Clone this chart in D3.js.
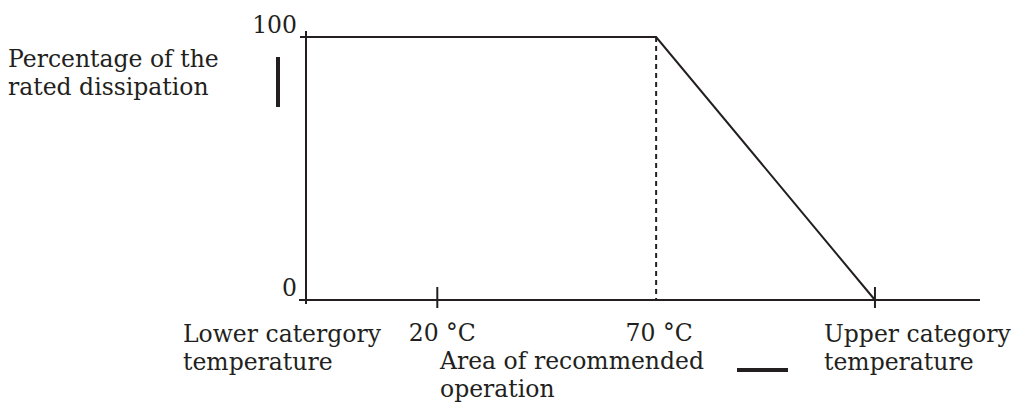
<!DOCTYPE html>
<html>
<head>
<meta charset="utf-8">
<script src="https://cdn.jsdelivr.net/npm/d3@7"></script>
<style>
  body { margin: 0; background: #fff; }
  svg text { font-family: "DejaVu Serif", serif; font-size: 23.5px; fill: #231f20; }
</style>
</head>
<body>
<svg id="chart" width="1012" height="405"></svg>
<script>
// derating curve: temperature (°C) vs percentage of rated dissipation
var temps = [-10, 70, 120];
var percent = [100, 100, 0];
var xTicks = [20, 120];
var yTicks = [0, 100];
var kneeTemp = 70;

var svg = d3.select('#chart');
var ink = '#231f20';

var x = d3.scaleLinear().domain([-10, 144]).range([306, 980]);
var y = d3.scaleLinear().domain([0, 100]).range([300, 37]);

// axes
svg.append('line')
    .attr('x1', x(-10) - 7).attr('x2', x(144))
    .attr('y1', y(0)).attr('y2', y(0))
    .attr('stroke', ink).attr('stroke-width', 2);
svg.append('line')
    .attr('x1', x(-10)).attr('x2', x(-10))
    .attr('y1', y(100) - 6).attr('y2', y(0) + 4)
    .attr('stroke', ink).attr('stroke-width', 2);

// y ticks
svg.selectAll('.ytick').data(yTicks).enter().append('line')
    .attr('x1', x(-10) - 6).attr('x2', x(-10))
    .attr('y1', function (d) { return y(d); })
    .attr('y2', function (d) { return y(d); })
    .attr('stroke', ink).attr('stroke-width', 2);
svg.selectAll('.ylab').data(yTicks).enter().append('text')
    .attr('x', x(-10) - 9)
    .attr('y', function (d) { return y(d) - 4; })
    .attr('text-anchor', 'end')
    .text(function (d) { return d; });

// x ticks (cross the axis)
svg.selectAll('.xtick').data(xTicks).enter().append('line')
    .attr('x1', function (d) { return x(d); })
    .attr('x2', function (d) { return x(d); })
    .attr('y1', y(0) - 13).attr('y2', y(0) + 8)
    .attr('stroke', ink).attr('stroke-width', 2);

// dashed line at the knee
svg.append('line')
    .attr('x1', x(kneeTemp)).attr('x2', x(kneeTemp))
    .attr('y1', y(100)).attr('y2', y(0))
    .attr('stroke', ink).attr('stroke-width', 2)
    .attr('stroke-dasharray', '5,4');

// the curve
var line = d3.line()
    .x(function (d, i) { return x(temps[i]); })
    .y(function (d) { return y(d); });
svg.append('path')
    .datum(percent)
    .attr('d', line)
    .attr('fill', 'none')
    .attr('stroke', ink).attr('stroke-width', 2);

// labels
function label(tx, ty, lines, anchor) {
    var t = svg.append('text').attr('x', tx).attr('y', ty)
        .attr('text-anchor', anchor || 'start');
    lines.forEach(function (s, i) {
        t.append('tspan').attr('x', tx).attr('dy', i ? 28 : 0).text(s);
    });
}
label(8, 67, ['Percentage of the', 'rated dissipation']);
label(183, 342, ['Lower catergory', 'temperature']);
label(x(20) + 5, 341, ['20 °C'], 'middle');
label(x(70) + 3, 341, ['70 °C'], 'middle');
label(440, 369, ['Area of recommended', 'operation']);
label(824, 342, ['Upper category', 'temperature']);

// the little bar marks
svg.append('rect').attr('x', 276).attr('y', 57).attr('width', 4).attr('height', 50).attr('fill', ink);
svg.append('rect').attr('x', 737).attr('y', 368).attr('width', 51).attr('height', 4).attr('fill', ink);
</script>
</body>
</html>
